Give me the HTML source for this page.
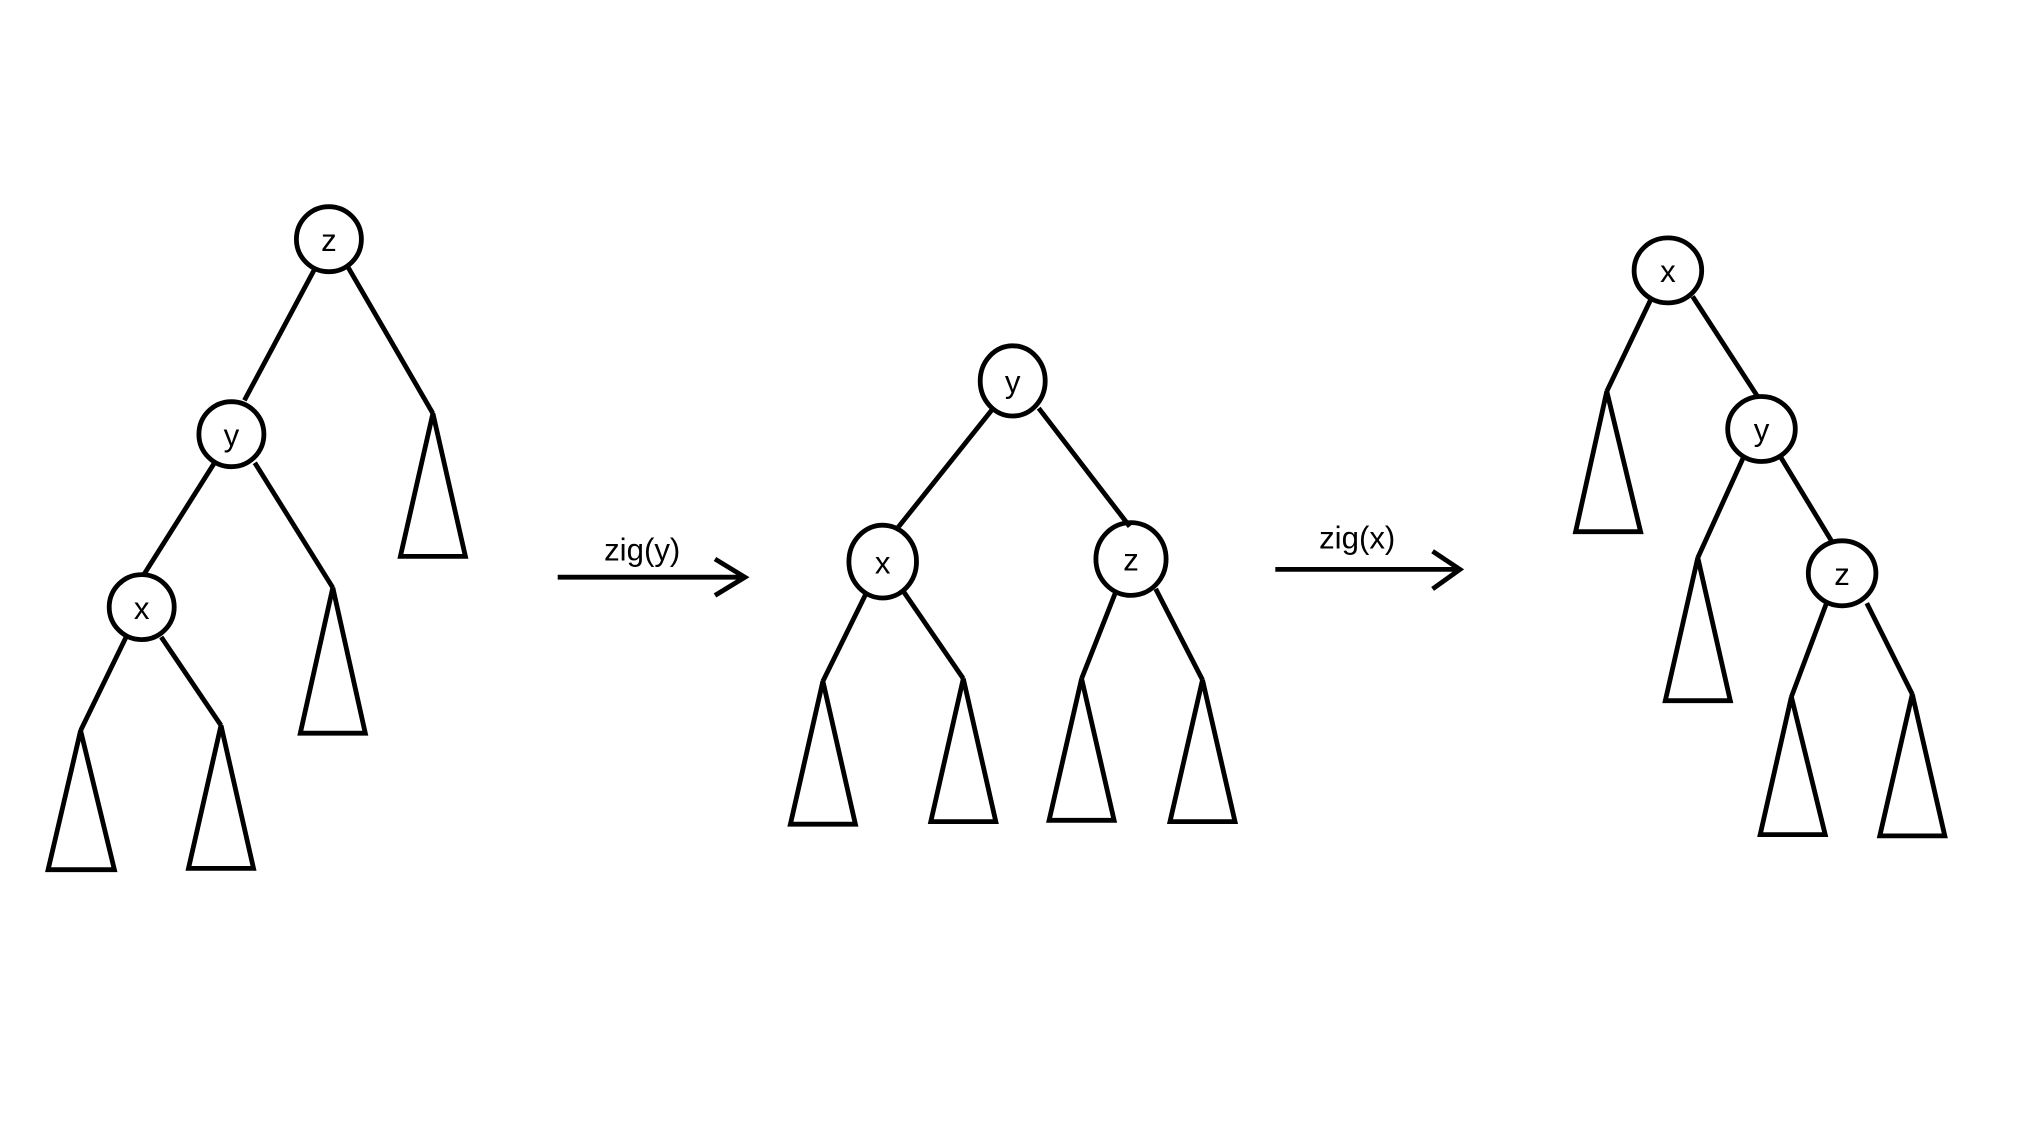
<!DOCTYPE html>
<html><head><style>html,body{margin:0;padding:0;background:#fff;}svg{display:block}</style></head>
<body>
<svg width="2028" height="1126" viewBox="0 0 1560 866.15" xmlns="http://www.w3.org/2000/svg">
<g fill="none" stroke="#000" stroke-width="3.7" stroke-linejoin="miter">
<ellipse cx="253" cy="184" rx="25" ry="25"/>
<line x1="242" y1="207" x2="188" y2="308"/>
<line x1="268" y1="206" x2="333" y2="318"/>
<polygon points="333,318 308,428 358,428"/>
<ellipse cx="178" cy="334" rx="25" ry="25"/>
<line x1="165" y1="356" x2="110" y2="443"/>
<line x1="196" y1="356" x2="256" y2="452"/>
<polygon points="256,452 231,564 281,564"/>
<ellipse cx="109" cy="467" rx="25" ry="25"/>
<line x1="97" y1="490" x2="62" y2="562"/>
<line x1="124" y1="490" x2="170" y2="558"/>
<polygon points="62,562 37,669 88,669"/>
<polygon points="170,558 145,668 195,668"/>
<line x1="429" y1="444" x2="573" y2="444"/>
<polyline points="550,430 573,444 550,458"/>
<ellipse cx="779" cy="293" rx="25" ry="27"/>
<line x1="764" y1="314" x2="689" y2="408"/>
<line x1="799" y1="314" x2="869" y2="405"/>
<ellipse cx="679" cy="432" rx="26" ry="28"/>
<ellipse cx="870" cy="430" rx="27" ry="28"/>
<line x1="666" y1="457" x2="633" y2="524"/>
<line x1="695" y1="455" x2="741" y2="522"/>
<line x1="858" y1="456" x2="832" y2="522"/>
<line x1="889" y1="453" x2="925" y2="523"/>
<polygon points="633,524 608,634 658,634"/>
<polygon points="741,522 716,632 766,632"/>
<polygon points="832,522 807,631 857,631"/>
<polygon points="925,523 900,632 950,632"/>
<line x1="981" y1="438" x2="1123" y2="438"/>
<polyline points="1102,424 1123,438 1102,453"/>
<ellipse cx="1283" cy="208" rx="26" ry="25"/>
<line x1="1270" y1="230" x2="1236" y2="301"/>
<line x1="1302" y1="228" x2="1352" y2="305"/>
<polygon points="1236,301 1212,409 1262,409"/>
<ellipse cx="1355" cy="330" rx="26" ry="25"/>
<line x1="1341" y1="352" x2="1306" y2="429"/>
<line x1="1370" y1="352" x2="1410" y2="418"/>
<polygon points="1306,429 1281,539 1331,539"/>
<ellipse cx="1417" cy="441" rx="26" ry="25"/>
<line x1="1405" y1="464" x2="1378" y2="536"/>
<line x1="1436" y1="464" x2="1471" y2="534"/>
<polygon points="1378,536 1354,642 1404,642"/>
<polygon points="1471,534 1446,643 1496,643"/>
</g>
<g font-family="Liberation Sans, DejaVu Sans, sans-serif" font-size="24" text-anchor="middle" fill="#000">
<text x="253" y="193">z</text>
<text x="178" y="343">y</text>
<text x="109" y="476">x</text>
<text x="779" y="302">y</text>
<text x="679" y="441">x</text>
<text x="870" y="439">z</text>
<text x="1283" y="217">x</text>
<text x="1355" y="339">y</text>
<text x="1417" y="450">z</text>
<text x="494" y="431">zig(y)</text>
<text x="1044" y="422">zig(x)</text>
</g>
</svg>
</body></html>
